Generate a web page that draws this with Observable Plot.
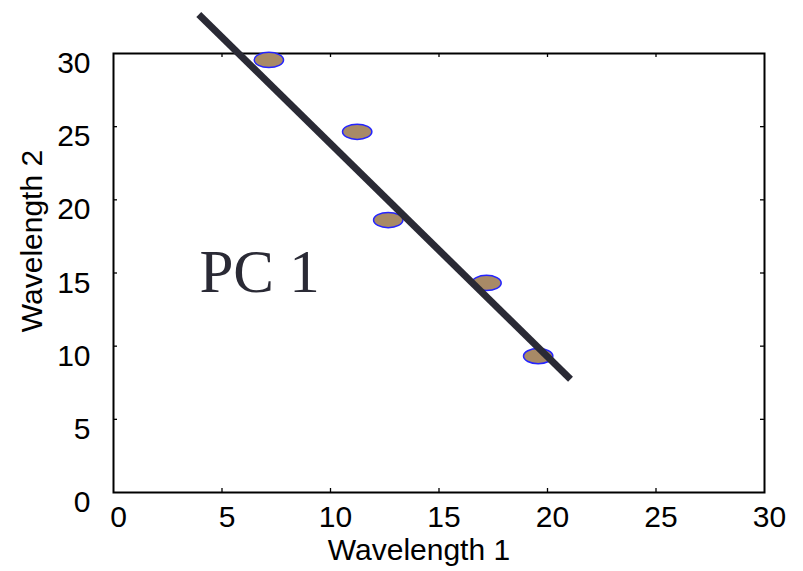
<!DOCTYPE html>
<html>
<head>
<meta charset="utf-8">
<script src="https://cdn.jsdelivr.net/npm/d3@7"></script>
<script src="https://cdn.jsdelivr.net/npm/@observablehq/plot@0.6"></script>
<style>
  html, body { margin: 0; padding: 0; background: #fff; }
  #chart svg { display: block; }
</style>
</head>
<body>
<div id="chart"></div>
<script>
// Data
const wavelength1 = [7.16, 11.23, 12.66, 17.19, 19.57];
const wavelength2 = [29.56, 24.65, 18.62, 14.32, 9.32];
const pcLineX = [3.93, 21.06];
const pcLineY = [32.67, 7.74];
const xTicks = [0, 5, 10, 15, 20, 25, 30];
const yTicks = [0, 5, 10, 15, 20, 25, 30];
const innerTicks = [5, 10, 15, 20, 25];
const annotation = "PC 1";
const xTitle = "Wavelength 1";
const yTitle = "Wavelength 2";

const points = wavelength1.map((x, i) => ({x, y: wavelength2[i]}));
const pcLine = pcLineX.map((x, i) => ({x, y: pcLineY[i]}));

const W = 803, H = 571;
const mL = 113, mR = 39, mT = 53, mB = 79;
const innerW = W - mL - mR, innerH = H - mT - mB;
const tickLen = 4;

// ellipse symbol
const ellipse = {
  draw(ctx, size) {
    const r = Math.sqrt(size / Math.PI);
    const rx = r * 1.93, ry = r, k = 0.5523;
    ctx.moveTo(rx, 0);
    ctx.bezierCurveTo(rx, ry * k, rx * k, ry, 0, ry);
    ctx.bezierCurveTo(-rx * k, ry, -rx, ry * k, -rx, 0);
    ctx.bezierCurveTo(-rx, -ry * k, -rx * k, -ry, 0, -ry);
    ctx.bezierCurveTo(rx * k, -ry, rx, -ry * k, rx, 0);
    ctx.closePath();
  }
};

const font = "'Liberation Sans', Arial, sans-serif";

const chart = Plot.plot({
  width: W,
  height: H,
  marginLeft: mL,
  marginRight: mR,
  marginTop: mT,
  marginBottom: mB,
  style: {fontFamily: font, background: "#fff", overflow: "visible"},
  x: {domain: [0, 30]},
  y: {domain: [0, 30]},
  marks: [
    // tick labels
    Plot.axisX(xTicks, {tickSize: 0, tickPadding: 13, fontSize: 30, dx: 5, fill: "#000", label: null}),
    Plot.axisY(yTicks, {tickSize: 0, tickPadding: 23, fontSize: 30, dy: 10, fill: "#000", label: null}),
    // inward ticks
    Plot.ruleX(innerTicks, {x: d => d, insetTop: innerH - tickLen, stroke: "#000", strokeWidth: 1.3}),
    Plot.ruleX(innerTicks, {x: d => d, insetBottom: innerH - tickLen, stroke: "#000", strokeWidth: 1.3}),
    Plot.ruleY(innerTicks, {y: d => d, insetRight: innerW - tickLen, stroke: "#000", strokeWidth: 1.3}),
    Plot.ruleY(innerTicks, {y: d => d, insetLeft: innerW - tickLen, stroke: "#000", strokeWidth: 1.3}),
    Plot.frame({stroke: "#000", strokeWidth: 2}),
    // axis titles
    Plot.text([xTitle], {frameAnchor: "bottom", text: d => d, dy: 58, dx: -20, fontSize: 30, fill: "#000", textAnchor: "middle", lineAnchor: "middle"}),
    Plot.text([yTitle], {frameAnchor: "left", text: d => d, rotate: -90, dx: -81, dy: -32, fontSize: 30, fill: "#000", textAnchor: "middle", lineAnchor: "middle"}),
    // annotation
    Plot.text([annotation], {x: 3.96, y: 13.69, text: d => d, textAnchor: "start", lineAnchor: "bottom", fontSize: 61, fontFamily: "'Liberation Serif', 'Times New Roman', serif", fill: "#2a2a35"}),
    // points
    Plot.dot(points, {x: "x", y: "y", r: 7.6, symbol: ellipse, fill: "#a88a66", stroke: "#2424ff", strokeWidth: 1.5}),
    // PC 1 line
    Plot.line(pcLine, {x: "x", y: "y", stroke: "#2a2a35", strokeWidth: 7, strokeLinecap: "butt"})
  ]
});
document.getElementById("chart").appendChild(chart);
</script>
</body>
</html>
